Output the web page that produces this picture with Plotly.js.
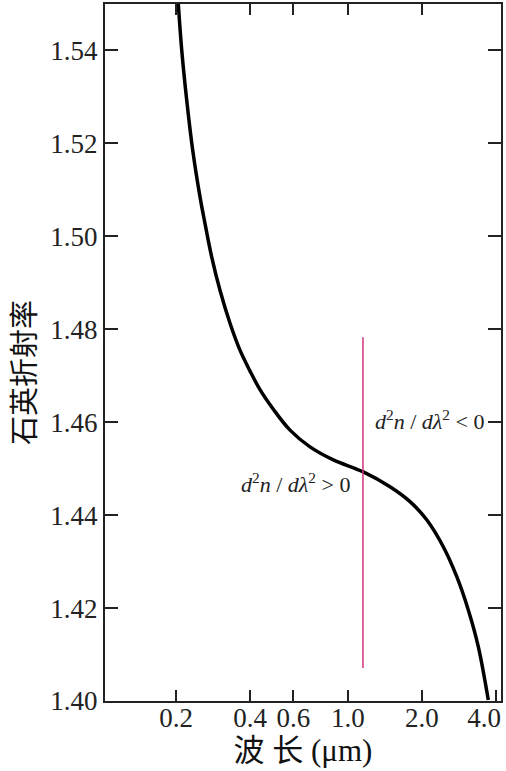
<!DOCTYPE html>
<html>
<head>
<meta charset="utf-8">
<script src="https://cdn.plot.ly/plotly-3.0.1.min.js"></script>
<style>html,body{margin:0;padding:0;background:#fff;}#chart{width:506px;height:771px;}</style>
</head>
<body>
<div id="chart"></div>
<script>
// Wavelength (μm) and refractive index of quartz
const wavelength = [0.2043, 0.2110, 0.2211, 0.2338, 0.2504, 0.2623, 0.2793, 0.3019, 0.3316, 0.3640, 0.3999, 0.4390, 0.4972, 0.5814, 0.7011, 0.8719, 1.1544, 1.4824, 1.7876, 2.0900, 2.4408, 2.7672, 3.0850, 3.3875, 3.7199];
const refractiveIndex = [1.5501, 1.5401, 1.5293, 1.5186, 1.5085, 1.5028, 1.4956, 1.4884, 1.4813, 1.4755, 1.4710, 1.4670, 1.4628, 1.4583, 1.4547, 1.4519, 1.4493, 1.4461, 1.4429, 1.4390, 1.4332, 1.4268, 1.4196, 1.4117, 1.4002];

// Zero-dispersion marker line
const markerX = [1.151, 1.151];
const markerY = [1.4783, 1.4071];

const xTickVals = [0.2, 0.4, 0.6, 1.0, 2.0];
const xTickText = ["0.2", "0.4", "0.6", "1.0", "2.0"];
const xEdgeTickVals = [4.0];
const xEdgeTickText = ["4.0"];
const yTickVals = [1.40, 1.42, 1.44, 1.46, 1.48, 1.50, 1.52, 1.54];
const yTickText = ["1.40", "1.42", "1.44", "1.46", "1.48", "1.50", "1.52", "1.54"];

const serif = "'Liberation Serif', 'Times New Roman', serif";
const cjk = "'Liberation Serif', 'Noto Sans CJK SC', serif";
const xRange = [-0.9876, 0.6222];

const traces = [
  {
    x: markerX, y: markerY, type: "scatter", mode: "lines",
    xaxis: "x2", yaxis: "y",
    line: {color: "#d2327c", width: 1.5},
    hoverinfo: "skip", showlegend: false
  },
  {
    x: wavelength, y: refractiveIndex, type: "scatter", mode: "lines",
    line: {color: "#000000", width: 3.5, shape: "spline", smoothing: 1},
    showlegend: false
  }
];

const tickFont = {family: serif, size: 27, color: "#222"};

const layout = {
  width: 506, height: 771,
  margin: {l: 105, r: 5, t: 4, b: 70},
  paper_bgcolor: "#ffffff", plot_bgcolor: "#ffffff",
  showlegend: false,
  xaxis: {
    type: "log",
    range: xRange,
    tickvals: xTickVals, ticktext: xTickText,
    ticks: "inside", ticklen: 11, tickwidth: 2, tickcolor: "#222",
    showline: true, linewidth: 2, linecolor: "#222", mirror: "ticks",
    showgrid: false, zeroline: false,
    tickfont: tickFont, ticklabelstandoff: -8,
    title: {text: "波 长 (μm)", font: {family: cjk, size: 31, color: "#111"}, standoff: 6}
  },
  xaxis2: {
    type: "log",
    range: xRange,
    overlaying: "x", anchor: "y", side: "bottom",
    tickvals: xEdgeTickVals, ticktext: xEdgeTickText,
    ticks: "inside", ticklen: 11, tickwidth: 2, tickcolor: "#222",
    showline: false, showgrid: false, zeroline: false,
    ticklabelshift: -12, ticklabeloverflow: "allow", ticklabelstandoff: -2,
    tickfont: tickFont
  },
  yaxis: {
    range: [1.40, 1.55],
    tickvals: yTickVals, ticktext: yTickText,
    ticks: "inside", ticklen: 13, tickwidth: 2, tickcolor: "#222",
    showline: true, linewidth: 2, linecolor: "#222", mirror: "ticks",
    showgrid: false, zeroline: false,
    tickfont: tickFont
  },
  annotations: [
    {
      x: -0.2096, y: 0.472, xref: "paper", yref: "paper",
      text: "石英折射率", textangle: -90,
      showarrow: false, xanchor: "center", yanchor: "middle",
      font: {family: "'Noto Sans CJK SC', sans-serif", size: 29, color: "#111"}
    },
    {
      x: Math.log10(1.27), y: 1.4605, xref: "x", yref: "y",
      text: "<i>d</i><sup>2</sup><i>n</i> / <i>d</i><i>λ</i><sup>2</sup> &lt; 0",
      showarrow: false, xanchor: "left", yanchor: "middle",
      font: {family: serif, size: 22, color: "#222"}
    },
    {
      x: Math.log10(1.04), y: 1.4469, xref: "x", yref: "y",
      text: "<i>d</i><sup>2</sup><i>n</i> / <i>d</i><i>λ</i><sup>2</sup> &gt; 0",
      showarrow: false, xanchor: "right", yanchor: "middle",
      font: {family: serif, size: 22, color: "#222"}
    }
  ]
};

Plotly.newPlot("chart", traces, layout, {displayModeBar: false, staticPlot: true});
</script>
</body>
</html>
